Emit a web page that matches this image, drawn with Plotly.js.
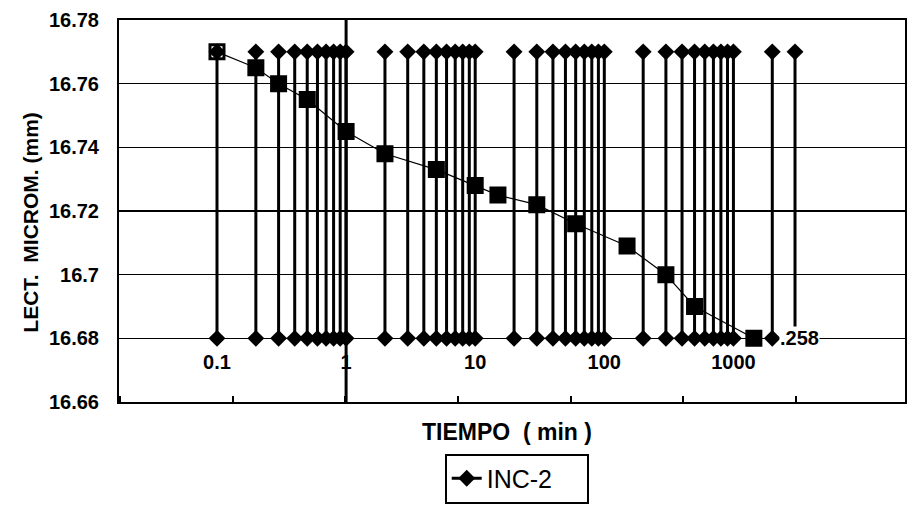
<!DOCTYPE html>
<html>
<head>
<meta charset="utf-8">
<script src="https://cdn.plot.ly/plotly-3.0.1.min.js"></script>
<style>html,body{margin:0;padding:0;background:#fff;}#chart{width:907px;height:516px;}</style>
</head>
<body>
<div id="chart"></div>
<script>
// Measured readings (square series)
var timeMin = [0.1, 0.2, 0.3, 0.5, 1, 2, 5, 10, 15, 30, 60, 150, 300, 500, 1440];
var lectura = [16.77, 16.765, 16.76, 16.755, 16.745, 16.738, 16.733, 16.728, 16.725, 16.722, 16.716, 16.709, 16.70, 16.69, 16.68];

// "INC-2" series: vertical lines with diamonds at top and bottom
var incX = [0.1,0.2,0.3,0.4,0.5,0.6,0.7,0.8,0.9,1,
            2,3,4,5,6,7,8,9,10,
            20,30,40,50,60,70,80,90,100,
            200,300,400,500,600,700,800,900,1000,
            2000,3000];
var incTop = 16.77;
var incBottom = 16.68;

var xTickVals = [0.1, 1, 10, 100, 1000];
var xTickText = ["0.1", "1", "10", "100", "1000"];
var yTickVals = [16.66, 16.68, 16.70, 16.72, 16.74, 16.76, 16.78];
var yTickText = ["16.66", "16.68", "16.7", "16.72", "16.74", "16.76", "16.78"];
var endLabel = ".258";
var endLabelX = 2000;

var incXs = [], incYs = [];
incX.forEach(function (v) {
  incXs.push(v, v, null);
  incYs.push(incTop, incBottom, null);
});

var symbols = timeMin.map(function (t, i) { return i === 0 ? 'square-open' : 'square'; });

var traces = [
  {
    x: incXs, y: incYs, type: 'scatter', mode: 'lines+markers', name: 'INC-2',
    line: {color: '#000', width: 3},
    marker: {symbol: 'diamond', size: 13, color: '#000'},
    showlegend: true
  },
  {
    x: [1, 1], y: [16.66, 16.78], type: 'scatter', mode: 'lines',
    line: {color: '#000', width: 3}, showlegend: false, hoverinfo: 'skip'
  },
  {
    x: timeMin, y: lectura, type: 'scatter', mode: 'lines+markers', name: 'lect',
    line: {color: '#000', width: 1.2},
    marker: {symbol: symbols, size: 14, color: '#000', line: {color: '#000', width: 3}},
    showlegend: false
  }
];

var ff = 'Liberation Sans, Arial, sans-serif';

var layout = {
  width: 907, height: 516,
  margin: {l: 119, r: 2, t: 20, b: 114},
  paper_bgcolor: '#fff', plot_bgcolor: '#fff',
  font: {family: ff, color: '#000'},
  showlegend: true,
  legend: {
    x: 0.506, y: -0.135, xanchor: 'center', yanchor: 'top',
    orientation: 'h', bordercolor: '#000', borderwidth: 2,
    font: {family: ff, size: 25, color: '#000'},
    bgcolor: '#fff', entrywidth: 95, itemwidth: 30
  },
  xaxis: {
    type: 'log', range: [-1.759, 4.329],
    tickvals: xTickVals, ticktext: xTickText,
    ticks: '', showgrid: false, zeroline: false, showline: false,
    anchor: 'free', position: 1 / 6,
    ticklabelstandoff: 10,
    tickfont: {family: ff, size: 20, color: '#000', weight: 'bold'}
  },
  xaxis2: {
    type: 'linear', overlaying: 'x', anchor: 'y', side: 'bottom',
    range: [-1.013, 5.973], tick0: 0, dtick: 1,
    ticks: 'inside', ticklen: 6, tickwidth: 2, tickcolor: '#000',
    showticklabels: false, showgrid: false, zeroline: false,
    showline: true, linecolor: '#000', linewidth: 2, mirror: true
  },
  yaxis: {
    range: [16.66, 16.78], tickvals: yTickVals, ticktext: yTickText,
    showgrid: true, gridcolor: '#000', gridwidth: 1.2,
    zeroline: false, ticks: '', ticklabelstandoff: 14,
    showline: true, linecolor: '#000', linewidth: 2, mirror: true,
    tickfont: {family: ff, size: 20, color: '#000', weight: 'bold'}
  },
  annotations: [
    {
      text: 'LECT.  MICROM. (mm)', xref: 'paper', yref: 'paper', x: -0.113, y: 0.47,
      xanchor: 'center', yanchor: 'middle', textangle: -90, showarrow: false,
      font: {family: ff, size: 21, color: '#000', weight: 'bold'}
    },
    {
      text: 'TIEMPO  ( min )', xref: 'paper', yref: 'paper', x: 0.494, y: -0.079,
      xanchor: 'center', yanchor: 'middle', showarrow: false,
      font: {family: ff, size: 23, color: '#000', weight: 'bold'}
    },
    {
      text: endLabel, xref: 'x', yref: 'y', x: Math.log10(endLabelX), y: incBottom,
      xanchor: 'left', yanchor: 'middle', xshift: 7, showarrow: false,
      bgcolor: '#fff', borderpad: 0,
      font: {family: ff, size: 20, color: '#000', weight: 'bold'}
    }
  ]
};

traces.push({x: [0], y: [16.7], xaxis: 'x2', yaxis: 'y', mode: 'markers', marker: {opacity: 0}, showlegend: false, hoverinfo: 'skip'});

Plotly.newPlot('chart', traces, layout, {displayModeBar: false, staticPlot: true});
</script>
</body>
</html>
